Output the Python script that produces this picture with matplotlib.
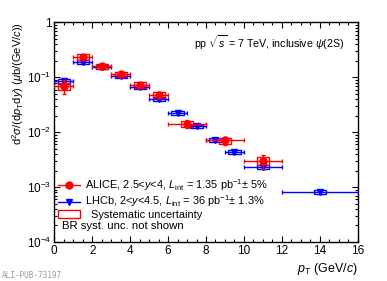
import matplotlib
matplotlib.use("Agg")
import matplotlib.pyplot as plt
from matplotlib.patches import Rectangle
from matplotlib.lines import Line2D
from matplotlib.ticker import MultipleLocator, LogLocator, NullFormatter
import numpy as np

plt.rcParams['font.family'] = ['Liberation Sans', 'DejaVu Sans']
plt.rcParams['mathtext.fontset'] = 'custom'
plt.rcParams['mathtext.rm'] = 'Liberation Sans'
plt.rcParams['mathtext.it'] = 'Liberation Sans:italic'
plt.rcParams['mathtext.bf'] = 'Liberation Sans:bold'

# ALICE data
alice_pt = [0.5, 1.5, 2.5, 3.5, 4.5, 5.5, 7.0, 9.0, 11.0]
alice_dpt = [0.5, 0.5, 0.5, 0.5, 0.5, 0.5, 1.0, 1.0, 1.0]
alice_y = [0.070, 0.235, 0.158, 0.113, 0.074, 0.048, 0.0143, 0.0071, 0.0030]
alice_stat = [0.020, 0.025, 0.014, 0.009, 0.006, 0.005, 0.0025, 0.0012, 0.0009]
alice_sys = [0.010, 0.030, 0.018, 0.013, 0.009, 0.006, 0.0018, 0.0009, 0.0005]

# LHCb data
lhcb_pt = [0.5, 1.5, 2.5, 3.5, 4.5, 5.5, 6.5, 7.5, 8.5, 9.5, 11.0, 14.0]
lhcb_dpt = [0.5, 0.5, 0.5, 0.5, 0.5, 0.5, 0.5, 0.5, 0.5, 0.5, 1.0, 2.0]
lhcb_y = [0.086, 0.188, 0.153, 0.108, 0.068, 0.040, 0.0228, 0.0128, 0.0072, 0.0044, 0.0023, 0.00081]
lhcb_stat = [0.004, 0.006, 0.004, 0.003, 0.002, 0.0013, 0.0008, 0.0005, 0.0003, 0.0002, 0.00015, 0.00006]
lhcb_sys = [0.009, 0.015, 0.012, 0.009, 0.006, 0.0035, 0.0018, 0.0010, 0.0006, 0.0004, 0.0002, 0.00007]

box_halfwidth = 0.32
red = '#ff0000'
blue = '#0000ff'

fig = plt.figure(figsize=(3.87, 2.81), dpi=100)
ax = fig.add_axes([0.1403, 0.1388, 0.7840, 0.7812])

def sys_boxes(pt, y, sys, color):
    for xi, yi, si in zip(pt, y, sys):
        ax.add_patch(Rectangle((xi - box_halfwidth, yi - si), 2 * box_halfwidth, 2 * si,
                               facecolor='none', edgecolor=color, lw=1.0, zorder=3))

sys_boxes(lhcb_pt, lhcb_y, lhcb_sys, blue)
ax.errorbar(lhcb_pt, lhcb_y, xerr=lhcb_dpt, yerr=lhcb_stat, fmt='v', color=blue,
            ms=4.5, elinewidth=1.0, capsize=1.5, capthick=1.0, zorder=4)
sys_boxes(alice_pt, alice_y, alice_sys, red)
ax.errorbar(alice_pt, alice_y, xerr=alice_dpt, yerr=alice_stat, fmt='o', color=red,
            ms=5, elinewidth=1.0, capsize=1.5, capthick=1.0, zorder=5)

ax.set_xlim(0, 16)
ax.set_yscale('log')
ax.set_ylim(1e-4, 1)

ax.xaxis.set_major_locator(MultipleLocator(2))
ax.xaxis.set_minor_locator(MultipleLocator(0.5))
ax.yaxis.set_minor_locator(LogLocator(base=10, subs=np.arange(2, 10), numticks=20))
ax.yaxis.set_minor_formatter(NullFormatter())
ax.set_yticks([1e-4, 1e-3, 1e-2, 1e-1, 1])
ax.set_yticklabels([r'10$^{-4}$', r'10$^{-3}$', r'10$^{-2}$', r'10$^{-1}$', '1'])
ax.tick_params(which='both', direction='in', top=True, right=True, labelsize=8.5, pad=2)
ax.tick_params(which='major', length=4.5, width=0.8)
ax.tick_params(which='minor', length=2.5, width=0.8)
for s in ax.spines.values():
    s.set_linewidth(1.0)

ax.set_xlabel(r'$p_{\rm T}$ (GeV/$c$)', fontsize=9, loc='right', labelpad=3)
ax.set_ylabel(r'd$^2\sigma$/(d$p_{\rm T}$d$y$) ($\mu$b/(GeV/$c$))', fontsize=8, loc='top', labelpad=1)

ax.text(0.955, 0.906, r'pp $\sqrt{s}$ = 7 TeV, inclusive $\psi$(2S)', transform=ax.transAxes,
        ha='right', va='center', fontsize=7.7)

handles = [
    Line2D([], [], color=red, marker='o', ms=5, lw=1.0),
    Line2D([], [], color=blue, marker='v', ms=4.5, lw=1.0),
    Rectangle((0, 0), 1, 1, facecolor='none', edgecolor=red, lw=1.0),
]
labels = [
    r'ALICE, 2.5<$y$<4, $L_{\rm int}$ = 1.35 pb$^{-1}$$\pm$ 5%',
    r'LHCb, 2<$y$<4.5, $L_{\rm int}$ = 36 pb$^{-1}$$\pm$ 1.3%',
    '  Systematic uncertainty',
]
leg = ax.legend(handles, labels, loc='lower left', bbox_to_anchor=(0.005, 0.09), frameon=False,
                fontsize=7.9, handlelength=2.0, handletextpad=0.5, labelspacing=0.05,
                borderaxespad=0.0, borderpad=0.2)
ax.text(0.027, 0.072, 'BR syst. unc. not shown', transform=ax.transAxes, ha='left', va='center',
        fontsize=8.2)

fig.text(0.005, 0.018, 'ALI-PUB-73197', fontsize=5.6, color='#999999', family='DejaVu Sans Mono',
         ha='left', va='center')

fig.savefig('out.png', dpi=100)
